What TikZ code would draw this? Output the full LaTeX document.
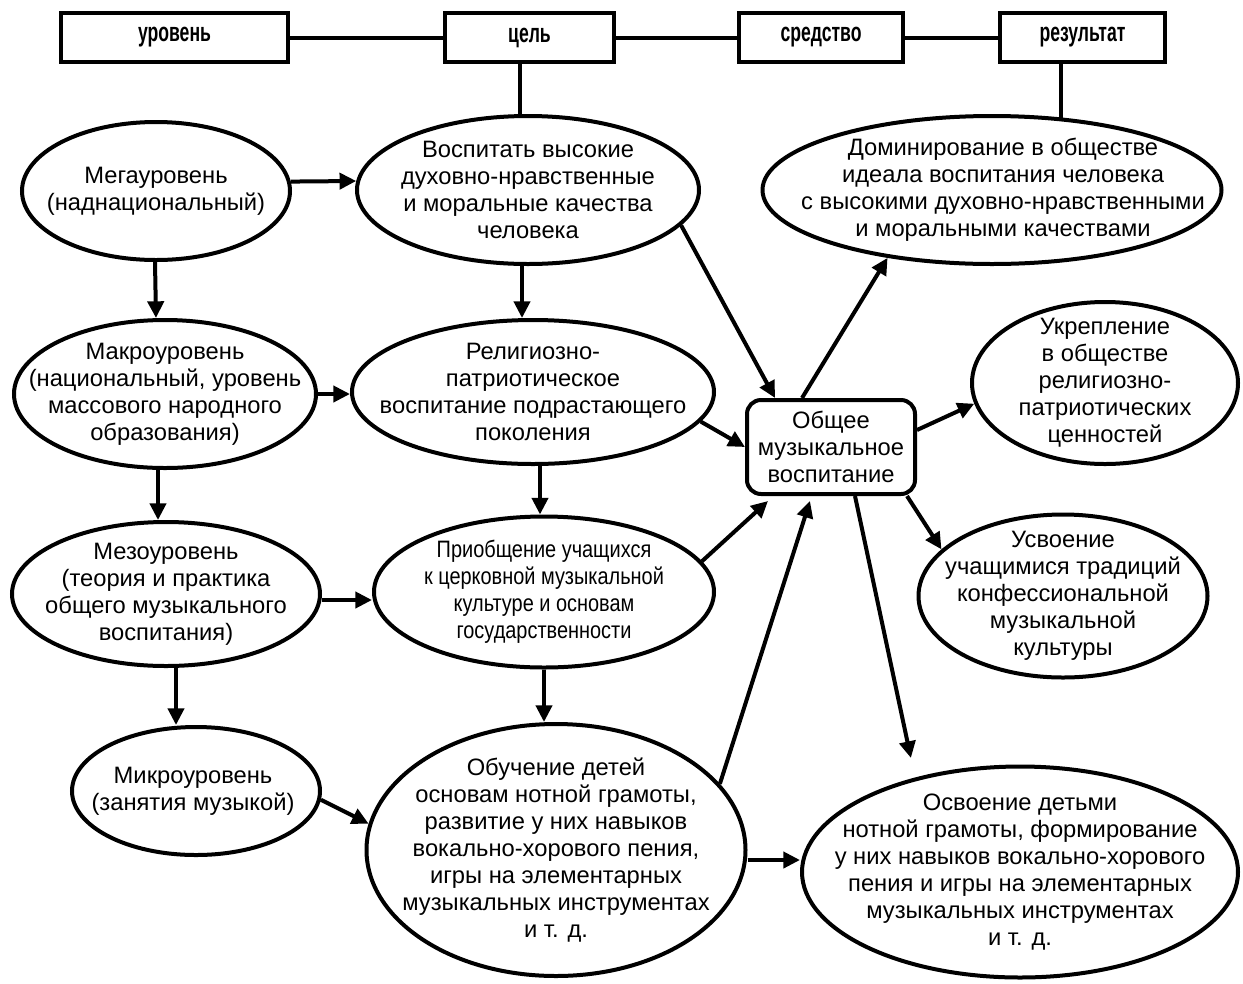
\documentclass[tikz,border=0pt]{standalone}
\usepackage{fontspec}
\setmainfont{Liberation Sans}
\newfontfamily\narrowfont[FakeStretch=0.84]{Liberation Sans}
\newfontfamily\headfont[FakeStretch=0.66]{Liberation Sans}
\usetikzlibrary{shapes.geometric,arrows.meta,calc}
\newcommand\mysz{\fontsize{17.8pt}{20.25pt}\selectfont}
\def\u{0.75pt}
\tikzset{
  ell/.style={ellipse, draw, line width=3pt, inner sep=0pt},
  txt/.style={align=center, inner sep=0pt, font=\mysz, text=black},
  head/.style={rectangle, draw, line width=3.4pt, inner sep=0pt, font=\headfont\bfseries\fontsize{20pt}{22pt}\selectfont},
  conn/.style={line width=3pt},
  arr/.style={conn, -{Triangle[length=12.5pt,width=12pt]}},
}
\begin{document}
\begin{tikzpicture}[x=0.75pt,y=-0.75pt]
\useasboundingbox (0,0) rectangle (1243,983);
% header boxes
\node[head, minimum width=227*\u, minimum height=49*\u] (lvl) at (174.5,37.5) {уровень};
\node[head, minimum width=169*\u, minimum height=49*\u] (tsel) at (529.5,37.5) {цель};
\node[head, minimum width=164*\u, minimum height=49*\u] (sred) at (821,37.5) {средство};
\node[head, minimum width=165*\u, minimum height=49*\u] (rez) at (1082.5,37.5) {результат};
% ellipses
\node[ell, minimum width=268*\u, minimum height=138*\u,
  label={[txt]center:{Мегауровень\\(наднациональный)}}] (mega) at (156,191) {};
\node[ell, minimum width=342*\u, minimum height=148*\u,
  label={[txt]center:{Воспитать высокие\\духовно-нравственные\\и моральные качества\\человека}}] (vosp) at (528,190) {};
\node[ell, minimum width=459*\u, minimum height=148*\u,
  label={[txt,xshift=11*\u]center:{Доминирование в обществе\\идеала воспитания человека\\с высокими духовно-нравственными\\и моральными качествами}}] (domin) at (992,190) {};
\node[ell, minimum width=302*\u, minimum height=148*\u,
  label={[txt]center:{Макроуровень\\(национальный, уровень\\массового народного\\образования)}}] (makro) at (165,394) {};
\node[ell, minimum width=362*\u, minimum height=144*\u,
  label={[txt]center:{Религиозно-\\патриотическое\\воспитание подрастающего\\поколения}}] (relig) at (533,392) {};
\node[rectangle, rounded corners=14*\u, draw, line width=3pt, minimum width=168*\u, minimum height=94*\u, inner sep=0pt,
  label={[txt]center:{Общее\\музыкальное\\воспитание}}] (obsh) at (831,447) {};
\node[ell, minimum width=266*\u, minimum height=162*\u,
  label={[txt]center:{Укрепление\\в обществе\\религиозно-\\патриотических\\ценностей}}] (ukrep) at (1105,383) {};
\node[ell, minimum width=308*\u, minimum height=144*\u,
  label={[txt]center:{Мезоуровень\\(теория и практика\\общего музыкального\\воспитания)}}] (mezo) at (166,594) {};
\node[ell, minimum width=340*\u, minimum height=151*\u,
  label={[txt,font={\narrowfont\mysz}]center:{Приобщение учащихся\\к церковной музыкальной\\культуре и основам\\государственности}}] (prio) at (544,592) {};
\node[ell, minimum width=289*\u, minimum height=163*\u,
  label={[txt]center:{Усвоение\\учащимися традиций\\конфессиональной\\музыкальной\\культуры}}] (usvo) at (1063,596) {};
\node[ell, minimum width=248*\u, minimum height=128*\u,
  label={[txt,xshift=-3*\u]center:{Микроуровень\\(занятия музыкой)}}] (mikro) at (196,791) {};
\node[ell, minimum width=379*\u, minimum height=252*\u,
  label={[txt]center:{Обучение детей\\основам нотной грамоты,\\развитие у них навыков\\вокально-хорового пения,\\игры на элементарных\\музыкальных инструментах\\и т. д.}}] (obuch) at (556,850) {};
\node[ell, minimum width=436*\u, minimum height=211*\u,
  label={[txt]center:{Освоение детьми\\нотной грамоты, формирование\\у них навыков вокально-хорового\\пения и игры на элементарных\\музыкальных инструментах\\и т. д.}}] (osvo) at (1020,872) {};
% header connectors
\draw[conn] (lvl.east) -- (tsel.west);
\draw[conn] (tsel.east) -- (sred.west);
\draw[conn] (sred.east) -- (rez.west);
\coordinate (ts) at ([xshift=-10*\u]tsel.south);
\draw[conn] (ts) -- (ts |- vosp.north);
\coordinate (rs) at ([xshift=-22*\u]rez.south);
\draw[conn] (rs) -- (domin.46 -| rs);
% arrows
\draw[arr] (mega.4) -- (vosp.177);
\draw[arr] ([xshift=-1*\u]mega.south) -- (makro.north -| mega.south);
\coordinate (vs) at ([xshift=-6*\u]vosp.south);
\draw[arr] (vs) -- (vs |- relig.north);
\draw[arr] (vosp.-13) -- ([xshift=-56*\u]obsh.north);
\draw[arr] (makro.east) -- (makro.east -| relig.west);
\coordinate (ms) at ([xshift=-7*\u]makro.south);
\draw[arr] (ms) -- (ms |- mezo.north);
\coordinate (rls) at ([xshift=7*\u]relig.south);
\draw[arr] (rls) -- (rls |- prio.north);
\draw[arr] (relig.-10) -- (obsh.west);
\draw[arr] ([xshift=-29*\u]obsh.north) -- (domin.-147);
\draw[arr] ([yshift=17*\u]obsh.east) -- (ukrep.189);
\draw[arr] ([xshift=-10*\u]obsh.south east) -- (usvo.159);
\draw[arr, shorten >=20*\u] ([xshift=24*\u]obsh.south) -- (osvo.138);
\draw[arr] (prio.11) -- ([xshift=23*\u,yshift=-5*\u]obsh.south west);
\coordinate (me) at ([yshift=-6*\u]mezo.east);
\draw[arr] (me) -- (me -| prio.west);
\coordinate (mz) at ([xshift=10*\u]mezo.south);
\draw[arr] (mz) -- (mz |- mikro.north);
\draw[arr] (prio.south) -- (prio.south |- obuch.north);
\draw[arr] (mikro.-4) -- (obuch.172);
\draw[arr] (obuch.22) -- ([xshift=-21*\u,yshift=-5*\u]obsh.south);
\coordinate (oe) at ([yshift=-10*\u]obuch.east);
\draw[arr] (oe) -- (oe -| osvo.west);
\end{tikzpicture}
\end{document}
